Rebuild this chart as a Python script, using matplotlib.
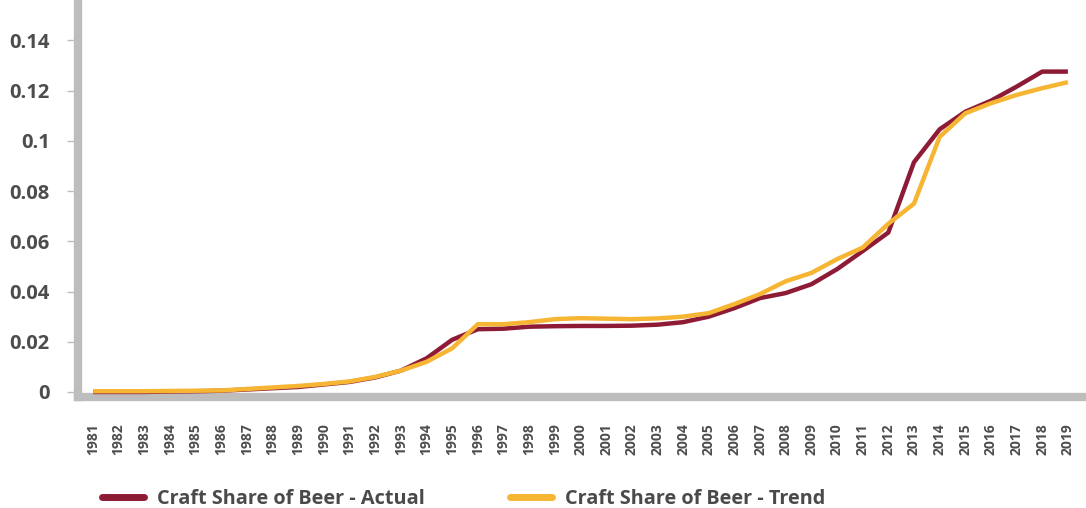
import matplotlib
matplotlib.use("Agg")
import matplotlib.pyplot as plt

years = list(range(1981, 2020))
actual = [0.0, 0.0, 0.0, 0.0002, 0.0003, 0.0005, 0.001, 0.0015, 0.002, 0.003,
          0.004, 0.0058, 0.0085, 0.0134, 0.0208, 0.025, 0.0252, 0.026, 0.0262, 0.0263,
          0.0263, 0.0264, 0.0268, 0.0278, 0.030, 0.0334, 0.0374, 0.0394, 0.0429, 0.0489,
          0.0561, 0.0635, 0.0915, 0.1046, 0.1116, 0.116, 0.1216, 0.1276, 0.1276]
trend = [0.0003, 0.0003, 0.0003, 0.0004, 0.0005, 0.0006, 0.0012, 0.0018, 0.0024, 0.0032,
         0.0042, 0.006, 0.0085, 0.012, 0.0174, 0.027, 0.027, 0.0278, 0.029, 0.0294,
         0.0292, 0.0290, 0.0293, 0.030, 0.0314, 0.035, 0.039, 0.0441, 0.0474, 0.0529,
         0.0575, 0.067, 0.075, 0.1016, 0.111, 0.115, 0.1183, 0.121, 0.1234]
yticks = [0, 0.02, 0.04, 0.06, 0.08, 0.1, 0.12, 0.14]
ytick_labels = ["0", "0.02", "0.04", "0.06", "0.08", "0.1", "0.12", "0.14"]
series_names = ["Craft Share of Beer - Actual", "Craft Share of Beer - Trend"]

RED = "#8E1B36"
ORANGE = "#F7B534"
GRAY = "#BDBDBD"
TEXT = "#4d4d4d"
FONT = ['Open Sans', 'DejaVu Sans']

plt.rcParams['font.family'] = FONT

fig = plt.figure(figsize=(10.86, 5.08), dpi=100)
ax = fig.add_axes([0.0715, 0.2185, 0.926, 0.776])

ax.plot(years, actual, color=RED, lw=3.2, label=series_names[0], solid_capstyle='butt', zorder=3)
ax.plot(years, trend, color=ORANGE, lw=3.2, label=series_names[1], solid_capstyle='butt', zorder=4)

ax.set_xlim(1980.4, 2019.6)
ax.set_ylim(-0.002, 0.155)

ax.set_yticks(yticks)
ax.set_yticklabels(ytick_labels, fontsize=14.5, fontweight='bold', color=TEXT)
ax.tick_params(axis='y', length=8, width=1, color=GRAY, pad=12)

ax.set_xticks(years)
ax.set_xticklabels([str(y) for y in years], rotation=90, fontsize=10, fontweight='bold', color=TEXT)
ax.tick_params(axis='x', length=0, pad=19)

for s in ['top', 'right']:
    ax.spines[s].set_visible(False)
for s in ['left', 'bottom']:
    ax.spines[s].set_color(GRAY)
    ax.spines[s].set_linewidth(6)

leg = fig.legend(loc='center left', bbox_to_anchor=(0.094, 0.018), ncol=2, frameon=False,
                 handlelength=2.1, handletextpad=0.67, columnspacing=4.3, borderpad=0, borderaxespad=0,
                 prop={'family': FONT, 'weight': 'bold', 'size': 14.3},
                 labelcolor="#4a4a4a")
for h in leg.legend_handles:
    h.set_linewidth(5)
    h.set_solid_capstyle('round')

fig.savefig("out.png", dpi=100)
